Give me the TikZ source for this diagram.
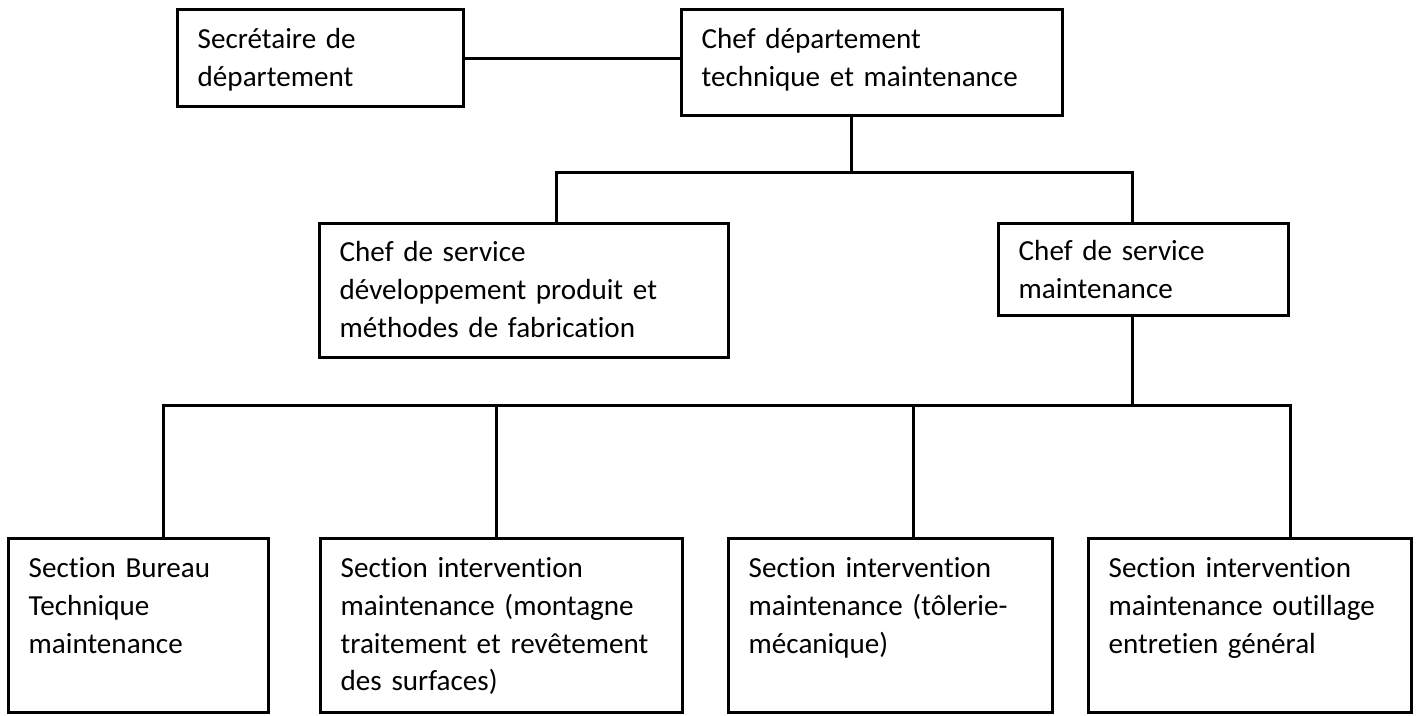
\documentclass[tikz,border=0pt]{standalone}
\usepackage{fontspec}
\setmainfont{Carlito}[Ligatures={NoCommon}]
\usetikzlibrary{fit}

\tikzset{
  orgbox/.style={draw=black, line width=3bp, inner sep=0pt, fill=white},
  orgtxt/.style={anchor=base west, inner sep=0pt, align=left,
    font=\fontsize{29.1bp}{37.8bp}\selectfont},
  conn/.style={draw=black, line width=3bp, line join=miter}
}

\begin{document}
\begin{tikzpicture}[x=1bp, y=-1bp]
  \useasboundingbox (0,0) rectangle (1416,715);

  % --- boxes (corner coordinates in bp, y downwards) ---
  \node[orgbox, fit={(177,10) (463,107)}] (sec) {};
  \node[orgbox, fit={(681,10) (1062,116)}] (chef) {};
  \node[orgbox, fit={(319,223) (728,357)}] (dev) {};
  \node[orgbox, fit={(998,223) (1288,315)}] (maint) {};
  \node[orgbox, fit={(8,538) (268,712)}] (sb1) {};
  \node[orgbox, fit={(320,538) (682,712)}] (sb2) {};
  \node[orgbox, fit={(728,538) (1052,712)}] (sb3) {};
  \node[orgbox, fit={(1088,538) (1411,712)}] (sb4) {};

  % --- texts ---
  \node[orgtxt, text width=260bp] (sec-t) at ([xshift=22bp,yshift=-40bp]sec.north west)
    {Secrétaire de\\département};
  \node[orgtxt, text width=350bp] (chef-t) at ([xshift=22bp,yshift=-40bp]chef.north west)
    {Chef département\\technique et maintenance};
  \node[orgtxt, text width=380bp] (dev-t) at ([xshift=22bp,yshift=-40bp]dev.north west)
    {Chef de service\\développement produit et\\méthodes de fabrication};
  \node[orgtxt, text width=260bp] (maint-t) at ([xshift=22bp,yshift=-39bp]maint.north west)
    {Chef de service\\maintenance};
  \node[orgtxt, text width=240bp] (sb1-t) at ([xshift=22bp,yshift=-41bp]sb1.north west)
    {Section Bureau\\Technique\\maintenance};
  \node[orgtxt, text width=340bp] (sb2-t) at ([xshift=22bp,yshift=-41bp]sb2.north west)
    {Section intervention\\maintenance (montagne\\traitement et revêtement\\des surfaces)};
  \node[orgtxt, text width=300bp] (sb3-t) at ([xshift=22bp,yshift=-41bp]sb3.north west)
    {Section intervention\\maintenance (tôlerie-\\mécanique)};
  \node[orgtxt, text width=300bp] (sb4-t) at ([xshift=22bp,yshift=-41bp]sb4.north west)
    {Section intervention\\maintenance outillage\\entretien général};

  % --- connector junctions ---
  \coordinate (top-stem) at (851,172);
  \coordinate (top-l) at (556,172);
  \coordinate (top-r) at (1132,172);
  \coordinate (low-stem) at (1132,405);
  \coordinate (low-1) at (163,405);
  \coordinate (low-2) at (496,405);
  \coordinate (low-3) at (913,405);
  \coordinate (low-4) at (1290,405);

  % --- connectors ---
  \draw[conn] (sec.east) -- (sec.east -| chef.west);
  \draw[conn] (top-stem |- chef.south) -- (top-stem);
  \draw[conn] (top-l |- dev.north) -- (top-l) -- (top-r) -- (top-r |- maint.north);
  \draw[conn] (low-stem |- maint.south) -- (low-stem);
  \draw[conn] (low-1 |- sb1.north) -- (low-1) -- (low-4) -- (low-4 |- sb4.north);
  \draw[conn] (low-2) -- (low-2 |- sb2.north);
  \draw[conn] (low-3) -- (low-3 |- sb3.north);
\end{tikzpicture}
\end{document}
